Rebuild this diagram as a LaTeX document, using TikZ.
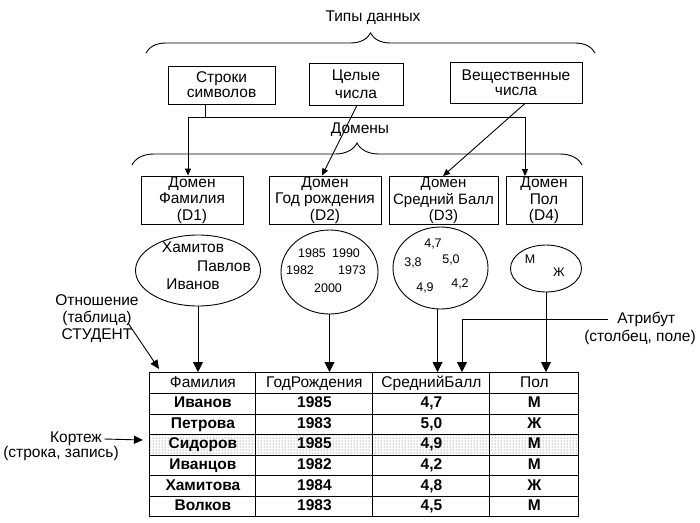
\documentclass[tikz,border=0pt]{standalone}
\usepackage{fontspec}
\setmainfont{Liberation Sans}
\usetikzlibrary{arrows.meta,shapes.geometric,decorations.pathreplacing,matrix,patterns,calc}
\begin{document}
\begin{tikzpicture}[x=1pt,y=-1pt, line width=0.9pt,
  basefont/.style={font=\fontsize{15.5}{17}\selectfont},
  lbl/.style={basefont, inner sep=1pt, align=center},
  tbox/.style={draw, rectangle, inner sep=0pt, align=center},
  dbox/.style={draw, rectangle, inner sep=0pt, align=center, minimum height=48pt, font=\fontsize{15.5}{16.5}\selectfont},
  ell/.style={draw, ellipse, inner sep=0pt},
  smalltxt/.style={font=\fontsize{12.5}{14}\selectfont, inner sep=0pt},
  nmtext/.style={basefont, inner sep=0pt},
  sarrow/.style={-{Triangle[length=7pt,width=6pt]}},
  tarrow/.style={-{Triangle[length=10pt,width=10pt]}},
  marrow/.style={-{Triangle[length=9pt,width=8pt]}},
]
\useasboundingbox (0,0) rectangle (700,522);

% --- data types
\node[lbl] (types) at (373,18) {Типы данных};
\draw[decorate, decoration={brace, amplitude=20pt}] (146,53) -- (595,53);

\node[tbox, minimum width=107pt, minimum height=38pt, font=\fontsize{15.5}{15}\selectfont] (str) at (221.5,85) {Строки\\символов};
\node[tbox, minimum width=94pt, minimum height=42pt, font=\fontsize{15.5}{18}\selectfont] (int) at (356,84) {Целые\\числа};
\node[tbox, minimum width=132pt, minimum height=41pt, font=\fontsize{15.5}{15.5}\selectfont] (real) at (516,82.5) {Вещественные\\числа};

% --- domains
\node[lbl] (doms) at (360,130) {Домены};
\draw[decorate, decoration={brace, amplitude=22pt}] (132,165) -- (582,165);

\node[dbox, minimum width=102pt] (d1) at (192,200) {Домен\\Фамилия\\(D1)};
\node[dbox, minimum width=112pt] (d2) at (325,200) {Домен\\Год рождения\\(D2)};
\node[dbox, minimum width=109pt, font=\fontsize{15}{16.5}\selectfont] (d3) at (443.5,200.5) {Домен\\Средний Балл\\(D3)};
\node[dbox, minimum width=76pt] (d4) at (544,200.5) {Домен\\Пол\\(D4)};

\coordinate (j) at (205,117);
\coordinate (jl) at (188,117);
\coordinate (jr) at (525,117);
\draw (str.south -| j) -- (j);
\draw[{Triangle[length=7pt,width=6pt]}-{Triangle[length=7pt,width=6pt]}] (jl |- d1.north) -- (jl) -- (jr) -- (jr |- d4.north);
\draw[sarrow] ($(int.south)+(1,0)$) -- ($(d2.north)+(-3,0)$);
\draw[sarrow] ($(real.south)+(9,0)$) -- ($(d3.north)+(-0.5,0)$);

% --- value sets
\node[ell, minimum width=125pt, minimum height=71pt] (e1) at (198,270.5) {};
\node[ell, minimum width=97pt, minimum height=84pt] (e2) at (329.5,272) {};
\node[ell, minimum width=95pt, minimum height=82pt] (e3) at (440.5,268) {};
\node[ell, minimum width=71pt, minimum height=47pt] (e4) at (546,268.5) {};

\node[nmtext] (n1) at (193,247) {Хамитов};
\node[nmtext] (n2) at (224,266) {Павлов};
\node[nmtext] (n3) at (193,284) {Иванов};

\node[smalltxt] (y1) at (312,253) {1985};
\node[smalltxt] (y2) at (346,253) {1990};
\node[smalltxt] (y3) at (300,270) {1982};
\node[smalltxt] (y4) at (352,270) {1973};
\node[smalltxt] (y5) at (328,288) {2000};

\node[smalltxt] (g1) at (433,244) {4,7};
\node[smalltxt] (g2) at (413,263) {3,8};
\node[smalltxt] (g3) at (451,260) {5,0};
\node[smalltxt] (g4) at (425,288) {4,9};
\node[smalltxt] (g5) at (460,284) {4,2};

\node[smalltxt] (s1) at (530,259) {М};
\node[smalltxt] (s2) at (559,272) {Ж};

% --- table
\matrix (tbl) [matrix of nodes, anchor=north west, inner sep=0pt,
  column sep=-0.9pt, row sep=-0.9pt,
  nodes={draw, minimum height=20.57pt, inner sep=0pt, text height=11pt, text depth=3pt,
         font=\fontsize{15.5}{17}\selectfont\bfseries},
  row 1/.style={nodes={font=\fontsize{15.5}{17}\selectfont}},
  row 4/.style={nodes={pattern=dots, pattern color=black!70}},
  column 1/.style={nodes={minimum width=106pt}},
  column 2/.style={nodes={minimum width=117pt}},
  column 3/.style={nodes={minimum width=117pt}},
  column 4/.style={nodes={minimum width=89pt}}] at (149,372) {
Фамилия & ГодРождения & СреднийБалл & Пол \\
Иванов & 1985 & 4,7 & М \\
Петрова & 1983 & 5,0 & Ж \\
Сидоров & 1985 & 4,9 & М \\
Иванцов & 1982 & 4,2 & М \\
Хамитова & 1984 & 4,8 & Ж \\
Волков & 1983 & 4,5 & М \\
};

\draw[tarrow] (e1.south) -- (e1.south |- tbl.north);
\draw[tarrow] (e2.south) -- (e2.south |- tbl.north);
\coordinate (e3b) at ($(e3.south)+(-3,0)$);
\draw[tarrow] (e3b) -- (e3b |- tbl.north);
\draw[tarrow] (e4.south) -- (e4.south |- tbl.north);

% --- attribute
\node[lbl, anchor=west] (attr1) at (616,319) {Атрибут};
\node[lbl] (attr2) at (640,337) {(столбец, поле)};
\coordinate (attrTip) at (462,372);
\draw[tarrow] ([xshift=-8pt]attr1.west) -| (attrTip);

% --- relation
\node[lbl] (rel) at (97,319) {Отношение\\(таблица)\\СТУДЕНТ};
\coordinate (relA) at (128,323);
\coordinate (relB) at (159,369);
\draw[marrow] (relA) -- (relB);

% --- tuple
\node[lbl] (kort) at (76,439) {Кортеж};
\node[lbl] (kort2) at (61,453) {(строка, запись)};
\coordinate (kortTip) at (143,440);
\draw[marrow] ([xshift=1pt]kort.east) -- (kortTip);
\end{tikzpicture}
\end{document}
